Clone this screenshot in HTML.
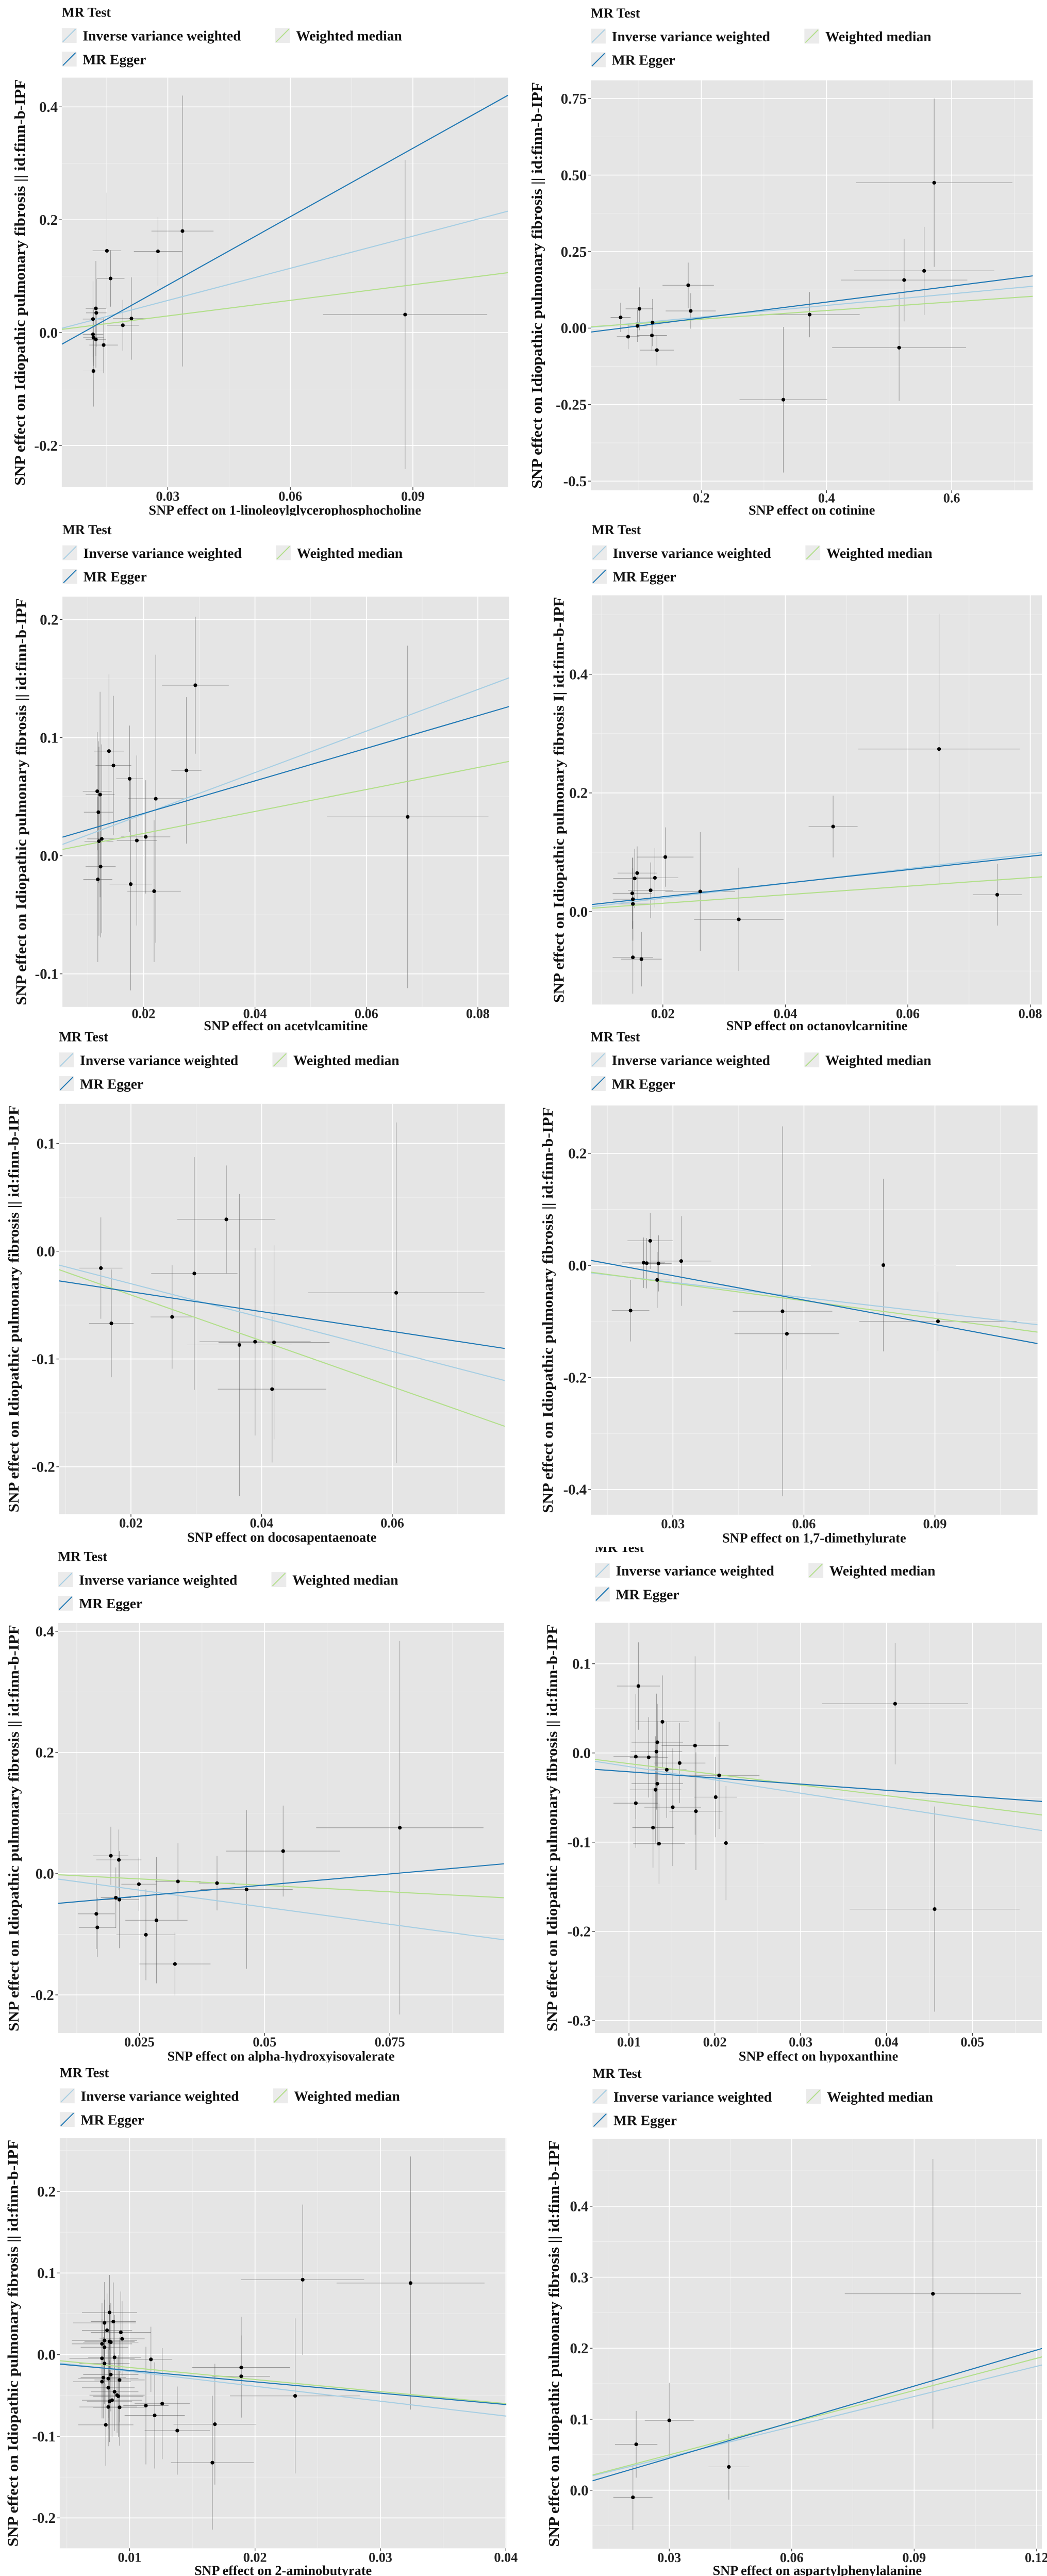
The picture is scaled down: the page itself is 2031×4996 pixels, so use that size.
<!DOCTYPE html>
<html><head><meta charset="utf-8">
<style>
html,body{margin:0;padding:0;background:#fff;}
body{width:2031px;height:4996px;position:relative;overflow:hidden;font-family:"Liberation Serif",serif;}
svg{position:absolute;}
</style></head>
<body>
<div id="root"></div>
<script>
// ---- Panel 1: 1-linoleoylglycerophosphocholine
const bx1=[0.0336,0.0276,0.0151,0.016,0.0124,0.0125,0.0117,0.019,0.0211,0.0117,0.0118,0.0124,0.0143,0.0118,0.0881];
const by1=[0.18,0.144,0.145,0.096,0.043,0.035,0.024,0.013,0.025,-0.003,-0.009,-0.012,-0.022,-0.068,0.032];
const sx1=[0.0076,0.0059,0.0035,0.0034,0.0025,0.0025,0.0025,0.0039,0.0045,0.0025,0.0025,0.0025,0.0035,0.0025,0.0201];
const sy1=[0.24,0.061,0.103,0.05,0.084,0.06,0.067,0.045,0.073,0.05,0.05,0.05,0.05,0.063,0.274];
const slope1=[1.9,4.04,0.92], icpt1=[0,-0.037,0.002];
const xt1=[0.03,0.06,0.09], yt1=[-0.2,0.0,0.2,0.4], ytl1=["-0.2","0.0","0.2","0.4"];
// ---- Panel 2: cotinine
const bx2=[0.572,0.556,0.524,0.373,0.516,0.331,0.179,0.183,0.071,0.101,0.098,0.083,0.121,0.122,0.129];
const by2=[0.475,0.187,0.157,0.044,-0.064,-0.234,0.14,0.056,0.035,0.063,0.007,-0.028,-0.024,0.018,-0.072];
const sx2=[0.125,0.112,0.101,0.08,0.107,0.07,0.041,0.04,0.016,0.022,0.016,0.018,0.024,0.027,0.027];
const sy2=[0.275,0.144,0.135,0.074,0.174,0.238,0.074,0.058,0.048,0.07,0.052,0.041,0.05,0.077,0.05];
const slope2=[0.19,0.26,0.141], icpt2=[-0.002,-0.019,0.001];
const xt2=[0.2,0.4,0.6], yt2=[-0.5,-0.25,0,0.25,0.5,0.75], ytl2=["-0.5","-0.25","0.00","0.25","0.50","0.75"];
// ---- Panel 3: acetylcarnitine
const bx3=[0.0293,0.0674,0.0277,0.0222,0.0138,0.0146,0.0175,0.0117,0.0122,0.0119,0.012,0.0125,0.0188,0.0204,0.0123,0.0118,0.0177,0.0219];
const by3=[0.1444,0.0329,0.0723,0.0483,0.0886,0.0764,0.0652,0.0546,0.0518,0.0369,0.0123,0.0143,0.0129,0.016,-0.0092,-0.02,-0.024,-0.03];
const sx3=[0.006,0.0145,0.0027,0.005,0.0027,0.0032,0.0024,0.0026,0.0026,0.0026,0.0026,0.0026,0.0036,0.0044,0.0027,0.0026,0.0038,0.0048];
const sy3=[0.058,0.145,0.062,0.122,0.065,0.059,0.045,0.05,0.087,0.06,0.08,0.08,0.072,0.048,0.06,0.07,0.09,0.06];
const slope3=[1.76,1.38,0.93], icpt3=[0,0.0082,0.0003];
const xt3=[0.02,0.04,0.06,0.08], yt3=[-0.1,0,0.1,0.2], ytl3=["-0.1","0.0","0.1","0.2"];
// ---- Panel 4: octanoylcarnitine
const bx4=[0.0651,0.0478,0.0746,0.0324,0.0261,0.0204,0.0158,0.0154,0.0187,0.018,0.015,0.0151,0.0151,0.0151,0.0165];
const by4=[0.274,0.1434,0.0285,-0.013,0.034,0.092,0.065,0.056,0.057,0.036,0.031,0.021,0.013,-0.077,-0.08];
const sx4=[0.0132,0.004,0.004,0.0073,0.0057,0.0046,0.0032,0.0035,0.0038,0.0037,0.0032,0.0032,0.0032,0.0033,0.0033];
const sy4=[0.228,0.052,0.052,0.087,0.1,0.05,0.045,0.05,0.05,0.047,0.06,0.07,0.06,0.061,0.046];
const slope4=[1.24,1.137,0.72], icpt4=[-0.002,0.0024,-0.0003];
const xt4=[0.02,0.04,0.06,0.08], yt4=[0,0.2,0.4], ytl4=["0.0","0.2","0.4"];
// ---- Panel 5: docosapentaenoate
const bx5=[0.0154,0.017,0.0263,0.0297,0.0346,0.0366,0.039,0.0419,0.0416,0.0606];
const by5=[-0.0157,-0.067,-0.061,-0.0207,0.0295,-0.087,-0.084,-0.0846,-0.128,-0.0386];
const sx5=[0.0033,0.0034,0.0033,0.0066,0.0075,0.008,0.0085,0.0085,0.0083,0.0135];
const sy5=[0.047,0.05,0.048,0.108,0.05,0.14,0.087,0.09,0.068,0.158];
const slope5=[-1.57,-0.919,-2.13], icpt5=[0.0012,-0.0193,0.002];
const xt5=[0.02,0.04,0.06], yt5=[-0.2,-0.1,0,0.1], ytl5=["-0.2","-0.1","0.0","0.1"];
// ---- Panel 6: 1,7-dimethylurate
const bx6=[0.0203,0.0248,0.0233,0.024,0.0267,0.0264,0.0319,0.0551,0.0561,0.0782,0.0907];
const by6=[-0.0806,0.0439,0.0048,0.004,0.0036,-0.0259,0.0078,-0.0818,-0.122,0.0006,-0.0998];
const sx6=[0.0043,0.0052,0.0049,0.004,0.003,0.003,0.0069,0.0114,0.012,0.0166,0.018];
const sy6=[0.055,0.05,0.045,0.045,0.05,0.05,0.08,0.33,0.064,0.154,0.053];
const slope6=[-0.905,-1.452,-1.046], icpt6=[-0.0031,0.0253,-0.0003];
const xt6=[0.03,0.06,0.09], yt6=[-0.4,-0.2,0,0.2], ytl6=["-0.4","-0.2","0.0","0.2"];
// ---- Panel 7: alpha-hydroxyisovalerate
const bx7=[0.077,0.0537,0.0464,0.0405,0.0327,0.0284,0.0263,0.0321,0.0249,0.0193,0.0209,0.0203,0.021,0.0164,0.0166];
const by7=[0.0758,0.0373,-0.026,-0.0156,-0.0128,-0.0769,-0.1008,-0.149,-0.0173,0.0295,0.0228,-0.0396,-0.0429,-0.0663,-0.0886];
const sx7=[0.0167,0.0114,0.0092,0.0036,0.0045,0.0062,0.0059,0.0071,0.0035,0.0035,0.0045,0.003,0.0039,0.0037,0.0037];
const sy7=[0.308,0.075,0.131,0.045,0.063,0.104,0.075,0.052,0.044,0.048,0.05,0.05,0.08,0.058,0.049];
const slope7=[-1.126,0.733,-0.426], icpt7=[0.001,-0.0554,0.002];
const xt7=[0.025,0.05,0.075], yt7=[-0.2,0,0.2,0.4], ytl7=["-0.2","0.0","0.2","0.4"];
// ---- Panel 8: hypoxanthine
const bx8=[0.041,0.0456,0.0111,0.0139,0.0177,0.0133,0.0132,0.0108,0.0123,0.0159,0.0144,0.0205,0.0133,0.0131,0.0201,0.0108,0.0151,0.0178,0.0128,0.0135,0.0213];
const by8=[0.0552,-0.175,0.075,0.0349,0.0083,0.012,0.0015,-0.0041,-0.0049,-0.0113,-0.0188,-0.0251,-0.0345,-0.0413,-0.0495,-0.0563,-0.0608,-0.0653,-0.0837,-0.1017,-0.101];
const sx8=[0.0085,0.0099,0.0025,0.0031,0.0039,0.003,0.003,0.0026,0.0022,0.003,0.0023,0.0047,0.003,0.003,0.0025,0.0026,0.0033,0.0031,0.0024,0.003,0.0044];
const sy8=[0.068,0.115,0.049,0.052,0.1,0.043,0.065,0.07,0.045,0.045,0.054,0.06,0.07,0.06,0.045,0.05,0.066,0.066,0.045,0.045,0.064];
const slope8=[-1.49,-0.691,-1.196], icpt8=[-0.0004,-0.0142,0];
const xt8=[0.01,0.02,0.03,0.04,0.05], yt8=[-0.3,-0.2,-0.1,0,0.1], ytl8=["-0.3","-0.2","-0.1","0.0","0.1"];
// ---- Panel 9: 2-aminobutyrate
const bx9=[0.0238,0.0324,0.0189,0.0189,0.0232,0.0168,0.0166,0.0138,0.012,0.0126,0.0113,0.0117,0.0084,0.008,0.0087,0.0082,0.0093,0.0094,0.008,0.0084,0.0085,0.0078,0.008,0.0088,0.0078,0.008,0.0085,0.0079,0.0083,0.0092,0.0078,0.0083,0.0088,0.009,0.0091,0.0086,0.0084,0.0083,0.0092,0.0081];
const by9=[0.0918,0.0877,-0.0157,-0.0265,-0.0505,-0.0852,-0.1323,-0.093,-0.0744,-0.06,-0.0624,-0.0058,0.0517,0.0389,0.0405,0.0298,0.0273,0.0194,0.0174,0.0161,0.0153,0.0132,0.0091,-0.0033,-0.0045,-0.0108,-0.0244,-0.0281,-0.0294,-0.031,-0.0331,-0.0405,-0.0455,-0.0496,-0.0509,-0.0558,-0.0571,-0.0641,-0.0645,-0.086];
const sx9=[0.0049,0.0059,0.0039,0.0023,0.0052,0.0033,0.0033,0.0026,0.0024,0.0022,0.0018,0.0017,0.0022,0.0025,0.0018,0.002,0.0024,0.0018,0.0026,0.002,0.0022,0.0024,0.0019,0.0021,0.0026,0.002,0.0022,0.0018,0.0024,0.002,0.0023,0.0021,0.0019,0.0022,0.002,0.0024,0.0018,0.0023,0.0021,0.0022];
const sy9=[0.092,0.155,0.062,0.05,0.095,0.074,0.082,0.054,0.065,0.068,0.072,0.04,0.046,0.05,0.048,0.045,0.05,0.046,0.05,0.045,0.048,0.05,0.045,0.052,0.048,0.05,0.045,0.05,0.048,0.052,0.045,0.05,0.048,0.046,0.05,0.045,0.05,0.048,0.047,0.05];
const slope9=[-1.826,-1.393,-1.478], icpt9=[-0.0022,-0.0054,-0.0009];
const xt9=[0.01,0.02,0.03,0.04], yt9=[-0.2,-0.1,0,0.1,0.2], ytl9=["-0.2","-0.1","0.0","0.1","0.2"];
// ---- Panel 10: aspartylphenylalanine
const bx10=[0.0946,0.03,0.0219,0.0211,0.0446];
const by10=[0.2767,0.0984,0.0647,-0.01,0.0328];
const sx10=[0.0216,0.006,0.0052,0.0048,0.005];
const sy10=[0.19,0.053,0.047,0.046,0.046];
const slope10=[1.417,1.693,1.511], icpt10=[0.0045,-0.0057,0.0045];
const xt10=[0.03,0.06,0.09,0.12], yt10=[0,0.1,0.2,0.3,0.4], ytl10=["0.0","0.1","0.2","0.3","0.4"];

const methodNames=["Inverse variance weighted","MR Egger","Weighted median"];
const methodColors=["#a6cee3","#1f78b4","#b2df8a"];

const panels=[
 {id:1,col:0,row:0,title:"1-linoleoylglycerophosphocholine",r:[183,230,1505,1443],xd:[0.00405,0.1133],yd:[-0.274,0.4518],x:bx1,y:by1,sx:sx1,sy:sy1,sl:slope1,ic:icpt1,xt:xt1,yt:yt1,ytl:ytl1,lgY:50,ytx:58,sep:"||"},
 {id:2,col:1,row:0,title:"cotinine",r:[200,238,1508,1452],xd:[0.0234,0.7296],yd:[-0.530,0.8095],x:bx2,y:by2,sx:sx2,sy:sy2,sl:slope2,ic:icpt2,xt:xt2,yt:yt2,ytl:ytl2,lgY:52,ytx:40,sep:"||"},
 {id:3,col:0,row:1,title:"acetylcamitine",r:[185,240,1508,1455],xd:[0.00545,0.0856],yd:[-0.128,0.2194],x:bx3,y:by3,sx:sx3,sy:sy3,sl:slope3,ic:icpt3,xt:xt3,yt:yt3,ytl:ytl3,lgY:55,ytx:62,sep:"||"},
 {id:4,col:1,row:1,title:"octanoylcarnitine",r:[203,236,1535,1448],xd:[0.0084,0.0819],yd:[-0.1565,0.533],x:bx4,y:by4,sx:sx4,sy:sy4,sl:slope4,ic:icpt4,xt:xt4,yt:yt4,ytl:ytl4,lgY:55,ytx:105,sep:"I|"},
 {id:5,col:0,row:2,title:"docosapentaenoate",r:[175,215,1495,1430],xd:[0.009,0.0772],yd:[-0.2439,0.1367],x:bx5,y:by5,sx:sx5,sy:sy5,sl:slope5,ic:icpt5,xt:xt5,yt:yt5,ytl:ytl5,lgY:30,ytx:40,sep:"||"},
 {id:6,col:1,row:2,title:"1,7-dimethylurate",r:[200,220,1522,1432],xd:[0.0112,0.1135],yd:[-0.445,0.2854],x:bx6,y:by6,sx:sx6,sy:sy6,sl:slope6,ic:icpt6,xt:xt6,yt:yt6,ytl:ytl6,lgY:30,ytx:72,sep:"||"},
 {id:7,col:0,row:3,title:"alpha-hydroxyisovalerate",r:[172,226,1493,1440],xd:[0.00876,0.0978],yd:[-0.263,0.4134],x:bx7,y:by7,sx:sx7,sy:sy7,sl:slope7,ic:icpt7,xt:xt7,yt:yt7,ytl:ytl7,lgY:42,ytx:40,sep:"||"},
 {id:8,col:1,row:3,title:"hypoxanthine",r:[212,225,1535,1440],xd:[0.00603,0.0581],yd:[-0.314,0.1459],x:bx8,y:by8,sx:sx8,sy:sy8,sl:slope8,ic:icpt8,xt:xt8,yt:yt8,ytl:ytl8,lgY:15,ytx:85,sep:"||"},
 {id:9,col:0,row:4,title:"2-aminobutyrate",r:[177,230,1500,1445],xd:[0.00443,0.04004],yd:[-0.2372,0.2653],x:bx9,y:by9,sx:sx9,sy:sy9,sl:slope9,ic:icpt9,xt:xt9,yt:yt9,ytl:ytl9,lgY:50,ytx:38,sep:"||"},
 {id:10,col:1,row:4,title:"aspartylphenylalanine",r:[205,232,1535,1446],xd:[0.0112,0.1213],yd:[-0.0823,0.4951],x:bx10,y:by10,sx:sx10,sy:sy10,sl:slope10,ic:icpt10,xt:xt10,yt:yt10,ytl:ytl10,lgY:52,ytx:90,sep:"||"}
];
const rowTops=[0,1000,2000,3000,3996];
const NS="http://www.w3.org/2000/svg";
function mk(tag,attrs,parent){const e=document.createElementNS(NS,tag);for(const k in attrs)e.setAttribute(k,attrs[k]);parent.appendChild(e);return e;}
function fmtX(v){let s=String(+v.toFixed(4));if(s.indexOf('.')<0)s+='.0';return s;}

const root=document.getElementById('root');
panels.forEach(p=>{
  const svg=document.createElementNS(NS,'svg');
  
  
  svg.setAttribute('width',p.col?1016:1015);svg.setAttribute('height',1000);
  svg.setAttribute('viewBox','0 0 1550 1527');svg.setAttribute('preserveAspectRatio','none');
  svg.style.left=(p.col?1015:0)+'px';svg.style.top=rowTops[p.row]+'px';
  root.appendChild(svg);
  const [x0,y0,x1,y1]=p.r;
  const X=v=>x0+(v-p.xd[0])/(p.xd[1]-p.xd[0])*(x1-x0);
  const Y=v=>y1-(v-p.yd[0])/(p.yd[1]-p.yd[0])*(y1-y0);
  const font='font-family:"Liberation Serif",serif;font-weight:bold;';
  const lg=mk('g',{},svg);
  
  
  const lt=mk('text',{x:x0,y:p.lgY,style:font+'font-size:40px;fill:#111'},lg);lt.textContent='MR Test';
  
  
  const pos=[[x0,p.lgY+70],[x0,p.lgY+140],[x0+632,p.lgY+70]];
  [0,1,2].forEach(m=>{
    const g=mk('g',{},lg);
    
    
    const [lx,ly]=pos[m];
    mk('rect',{x:lx,y:ly-37,width:44,height:44,fill:'#ebebeb'},g);
    mk('line',{x1:lx+3,y1:ly+4,x2:lx+41,y2:ly-34,stroke:methodColors[m],'stroke-width':3},g);
    const t=mk('text',{x:lx+62,y:ly,style:font+'font-size:42px;fill:#111'},g);t.textContent=methodNames[m];
  });
  const bg=mk('rect',{x:x0,y:y0,width:x1-x0,height:y1-y0,fill:'#e5e5e5'},svg);
  
  
  const grid=mk('g',{},svg);
  
  
  const minor=(t,d)=>{const st=t[1]-t[0];const out=[];for(let v=t[0]-st/2;v<=d[1];v+=st){if(v>=d[0])out.push(v);}return out;};
  minor(p.xt,p.xd).forEach(v=>mk('line',{x1:X(v),x2:X(v),y1:y0,y2:y1,stroke:'#f3f3f3','stroke-width':1.3},grid));
  minor(p.yt,p.yd).forEach(v=>mk('line',{y1:Y(v),y2:Y(v),x1:x0,x2:x1,stroke:'#f3f3f3','stroke-width':1.3},grid));
  p.xt.forEach(v=>mk('line',{x1:X(v),x2:X(v),y1:y0,y2:y1,stroke:'#fff','stroke-width':2.6},grid));
  p.yt.forEach(v=>mk('line',{y1:Y(v),y2:Y(v),x1:x0,x2:x1,stroke:'#fff','stroke-width':2.6},grid));
  const cp=mk('clipPath',{id:'clip'+p.id},svg);mk('rect',{x:x0,y:y0,width:x1-x0,height:y1-y0},cp);
  const data=mk('g',{'clip-path':'url(#clip'+p.id+')'},svg);
  
  
  p.x.forEach((xv,i)=>{
    const yv=p.y[i];
    const eb=mk('g',{stroke:'#555','stroke-opacity':0.55,'stroke-width':1.6},data);
    
    
    mk('line',{x1:X(xv-p.sx[i]),x2:X(xv+p.sx[i]),y1:Y(yv),y2:Y(yv)},eb);
    mk('line',{x1:X(xv),x2:X(xv),y1:Y(yv-p.sy[i]),y2:Y(yv+p.sy[i])},eb);
  });
  [0,2,1].forEach(m=>{
    const l=mk('line',{x1:X(p.xd[0]),y1:Y(p.ic[m]+p.sl[m]*p.xd[0]),x2:X(p.xd[1]),y2:Y(p.ic[m]+p.sl[m]*p.xd[1]),stroke:methodColors[m],'stroke-width':3.2},data);
    
    
  });
  p.x.forEach((xv,i)=>{
    const c=mk('circle',{cx:X(xv),cy:Y(p.y[i]),r:5.5,fill:'#000'},data);
    
    
  });
  const ax=mk('g',{},svg);
  
  
  const tickY=Math.min(y1+40,1488);
  p.xt.forEach(v=>{
    mk('line',{x1:X(v),x2:X(v),y1:y1,y2:y1+8,stroke:'#333','stroke-width':2},ax);
    const t=mk('text',{x:X(v),y:tickY,'text-anchor':'middle',style:font+'font-size:40px;fill:#222'},ax);t.textContent=fmtX(v);
    
    
  });
  const xtT=mk('text',{x:(x0+x1)/2,y:Math.min(y1+82,1524),'text-anchor':'middle',style:font+'font-size:40px;fill:#111'},ax);
  xtT.textContent='SNP effect on '+p.title;
  
  
  const ay=mk('g',{},svg);
  
  
  p.yt.forEach((v,i)=>{
    mk('line',{x1:x0-8,x2:x0,y1:Y(v),y2:Y(v),stroke:'#333','stroke-width':2},ay);
    const t=mk('text',{x:x0-12,y:Y(v)+15,'text-anchor':'end',style:font+'font-size:44px;fill:#222'},ay);t.textContent=p.ytl[i];
    
    
  });
  const cy=(y0+y1)/2;
  const ytT=mk('text',{x:0,y:0,'text-anchor':'middle',transform:'translate('+(p.ytx+15)+','+cy+') rotate(-90)',textLength:(y1-y0)-10,lengthAdjust:'spacingAndGlyphs',style:font+'font-size:44px;fill:#111'},ay);
  ytT.textContent='SNP effect on Idiopathic pulmonary fibrosis '+p.sep+' id:finn-b-IPF';
  
  
});
</script>
</body></html>
